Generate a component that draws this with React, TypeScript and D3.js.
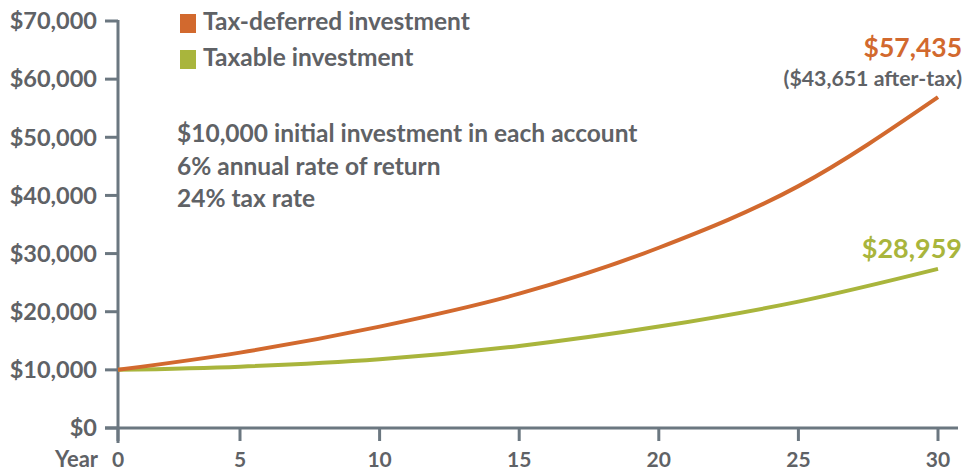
import React from 'react';
import * as d3 from 'd3';

// values at each 5-year tick
const years = [0, 5, 10, 15, 20, 25, 30];
const taxDeferred = [10000, 12960, 17440, 23100, 31000, 41600, 56900];
const taxable = [10000, 10550, 11820, 14110, 17440, 21740, 27370];

const yTicks = [0, 10000, 20000, 30000, 40000, 50000, 60000, 70000];
const xTicks = [0, 5, 10, 15, 20, 25, 30];

const legendLabels = ['Tax-deferred investment', 'Taxable investment'];
const notes = [
  '$10,000 initial investment in each account',
  '6% annual rate of return',
  '24% tax rate',
];

const ORANGE = '#d2692e';
const GREEN = '#a9b53c';
const TEXT = '#5f6266';
const AXIS = '#6b7780';
const FONT = 'Lato, "Open Sans", sans-serif';

const App: React.FC = () => {
  const width = 964;
  const height = 473;

  const x = d3.scaleLinear().domain([0, 5, 30]).range([118, 240, 938]);
  const y = d3.scaleLinear().domain([0, 70000]).range([428, 21]);

  const line = d3
    .line<number>()
    .x((_, i) => x(years[i]))
    .y((d) => y(d))
    .curve(d3.curveMonotoneX);

  const money = (v: number) => '$' + d3.format(',')(v);
  const legendColors = [ORANGE, GREEN];

  return (
    <svg
      width={width}
      height={height}
      style={{ position: 'absolute', left: 0, top: 0, background: '#fff' }}
      fontFamily={FONT}
      fontWeight="bold"
    >
      {/* axes */}
      <line x1={x(0)} x2={x(0)} y1={y(70000) - 1} y2={y(0) + 15} stroke={AXIS} strokeWidth={3} />
      <line x1={105} x2={958} y1={y(0)} y2={y(0)} stroke={AXIS} strokeWidth={3} />
      {yTicks.map((t) => (
        <g key={t}>
          <line x1={105} x2={x(0)} y1={y(t)} y2={y(t)} stroke={AXIS} strokeWidth={3} />
          <text x={97} y={y(t)} dy="0.35em" textAnchor="end" fontSize={23.5} fill={TEXT}>
            {money(t)}
          </text>
        </g>
      ))}
      {xTicks.map((t) => (
        <g key={t}>
          <line x1={x(t)} x2={x(t)} y1={y(0)} y2={y(0) + 13} stroke={AXIS} strokeWidth={3} />
          <text x={x(t)} y={467} textAnchor="middle" fontSize={21} fill={TEXT}>
            {t}
          </text>
        </g>
      ))}
      <text x={98} y={467} textAnchor="end" fontSize={22} fill={TEXT}>
        Year
      </text>

      {/* series */}
      <path d={line(taxable) || ''} fill="none" stroke={GREEN} strokeWidth={4} />
      <path d={line(taxDeferred) || ''} fill="none" stroke={ORANGE} strokeWidth={4} />

      {/* legend */}
      {legendLabels.map((l, i) => (
        <g key={l} transform={`translate(180, ${14 + i * 36})`}>
          <rect x={0} y={0} width={16} height={19} fill={legendColors[i]} />
          <text x={23} y={16} fontSize={24.5} fill={TEXT}>
            {l}
          </text>
        </g>
      ))}

      {/* notes */}
      {notes.map((n, i) => (
        <text key={n} x={177} y={142 + i * 32.5} fontSize={24.5} fill={TEXT}>
          {n}
        </text>
      ))}

      {/* end labels */}
      <text x={962} y={57} textAnchor="end" fontSize={26.5} fill={ORANGE}>
        {money(57435)}
      </text>
      <text x={962} y={86} textAnchor="end" fontSize={21.3} fill={TEXT}>
        ($43,651 after-tax)
      </text>
      <text x={962} y={258} textAnchor="end" fontSize={27} fill={GREEN}>
        {money(28959)}
      </text>
    </svg>
  );
};

export default App;
